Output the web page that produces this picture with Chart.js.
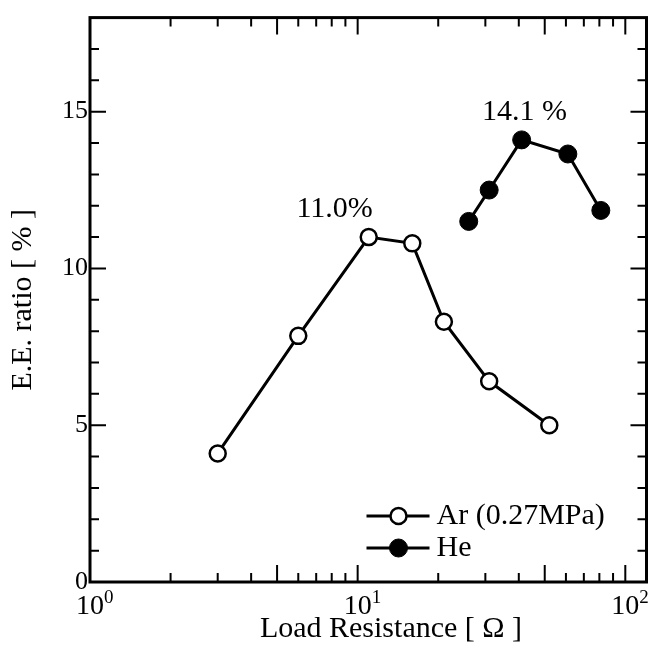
<!DOCTYPE html>
<html>
<head>
<meta charset="utf-8">
<script src="https://cdn.jsdelivr.net/npm/chart.js@4/dist/chart.umd.min.js"></script>
<style>
    html, body { margin: 0; padding: 0; background: #fff; }
</style>
</head>
<body>
<canvas id="chart" width="657" height="645"></canvas>
<script>
// values
var arLabel = "Ar (0.27MPa)";
var arX = [3, 6, 11, 16, 21, 31, 52];
var arY = [4.1, 7.85, 11.0, 10.8, 8.3, 6.4, 5.0];

var heLabel = "He";
var heX = [26, 31, 41, 61, 81];
var heY = [11.5, 12.5, 14.1, 13.65, 11.85];

var xDecades = [1, 10, 100];
var xExponents = ["0", "1", "2"];
var xMax = 120;
var yTicks = [0, 5, 10, 15];
var yMax = 18;

var peakTexts = ["11.0%", "14.1 %"];
var peakAtX = [8.2, 42];
var peakAtY = [11.9, 15.0];

var serif = "'Liberation Serif', 'DejaVu Serif', serif";
Chart.defaults.font.family = serif;
Chart.defaults.color = "#000";

function pts(xs, ys) {
    return xs.map(function (x, i) { return {x: x, y: ys[i]}; });
}

// frame, inward ticks, x labels, annotations, legend
var decor = {
    id: "decor",
    afterDraw: function (chart) {
        var ctx = chart.ctx, a = chart.chartArea;
        var xs = chart.scales.x, ys = chart.scales.y;
        ctx.save();
        ctx.strokeStyle = "#000";
        ctx.lineWidth = 3;
        ctx.strokeRect(a.left, a.top, a.right - a.left, a.bottom - a.top);

        ctx.lineWidth = 2;
        ctx.beginPath();
        xDecades.forEach(function (d) {
            for (var k = 1; k <= 9; k++) {
                var v = k * d;
                if (v <= 1 || v >= xMax) continue;
                var px = xs.getPixelForValue(v);
                var len = (k === 1 || k === 5) ? 17 : 9;
                ctx.moveTo(px, a.bottom); ctx.lineTo(px, a.bottom - len);
                ctx.moveTo(px, a.top); ctx.lineTo(px, a.top + len);
            }
        });
        for (var v = 1; v < yMax; v++) {
            var py = ys.getPixelForValue(v);
            var len = (v % 5 === 0) ? 16 : 9;
            ctx.moveTo(a.left, py); ctx.lineTo(a.left + len, py);
            ctx.moveTo(a.right, py); ctx.lineTo(a.right - len, py);
        }
        ctx.stroke();

        // x tick labels 10^n
        ctx.fillStyle = "#000";
        ctx.textBaseline = "alphabetic";
        xDecades.forEach(function (d, i) {
            var px = xs.getPixelForValue(d);
            ctx.font = "28px " + serif;
            ctx.textAlign = "center";
            ctx.fillText("10", px, 614);
            var w = ctx.measureText("10").width;
            ctx.font = "19px " + serif;
            ctx.textAlign = "left";
            ctx.fillText(xExponents[i], px + w / 2, 603);
        });

        // x axis title
        ctx.font = "30px " + serif;
        ctx.textAlign = "center";
        ctx.fillText("Load Resistance [ \u03A9 ]", 391, 637);

        // peak annotations
        ctx.font = "30px " + serif;
        ctx.textBaseline = "middle";
        peakTexts.forEach(function (t, i) {
            ctx.fillText(t, xs.getPixelForValue(peakAtX[i]), ys.getPixelForValue(peakAtY[i]));
        });

        // legend
        var lx = a.right - 280, ly = a.bottom - 66;
        chart.data.datasets.forEach(function (ds, i) {
            var y = ly + i * 32;
            ctx.lineWidth = ds.borderWidth;
            ctx.beginPath();
            ctx.moveTo(lx, y); ctx.lineTo(lx + 63, y);
            ctx.stroke();
            ctx.beginPath();
            ctx.arc(lx + 32, y, ds.pointRadius, 0, Math.PI * 2);
            ctx.fillStyle = ds.pointBackgroundColor;
            ctx.fill();
            ctx.lineWidth = ds.pointBorderWidth;
            ctx.stroke();
            ctx.fillStyle = "#000";
            ctx.textAlign = "left";
            ctx.font = "30px " + serif;
            ctx.fillText(ds.label, lx + 70, y);
        });
        ctx.restore();
    }
};

new Chart(document.getElementById("chart"), {
    type: "line",
    data: {
        datasets: [{
            label: arLabel,
            data: pts(arX, arY),
            borderColor: "#000",
            borderWidth: 3,
            pointRadius: 8,
            pointBorderWidth: 2.5,
            pointBackgroundColor: "#fff",
            pointBorderColor: "#000",
            fill: false,
            tension: 0
        }, {
            label: heLabel,
            data: pts(heX, heY),
            borderColor: "#000",
            borderWidth: 3,
            pointRadius: 9,
            pointBorderWidth: 1,
            pointBackgroundColor: "#000",
            pointBorderColor: "#000",
            fill: false,
            tension: 0
        }]
    },
    options: {
        responsive: false,
        animation: false,
        devicePixelRatio: 1,
        layout: {padding: {top: 12, right: 5, left: 0, bottom: 0}},
        plugins: {legend: {display: false}, tooltip: {enabled: false}},
        scales: {
            x: {
                type: "logarithmic",
                min: 1,
                max: xMax,
                grid: {display: false},
                border: {display: false},
                ticks: {display: false},
                afterFit: function (s) { s.height = 63; }
            },
            y: {
                type: "linear",
                min: 0,
                max: yMax,
                grid: {display: false, drawTicks: false},
                border: {display: false},
                afterBuildTicks: function (s) {
                    s.ticks = yTicks.map(function (v) { return {value: v}; });
                },
                ticks: {color: "#000", font: {size: 26}, padding: 2},
                title: {
                    display: true,
                    text: "E.E. ratio [ % ]",
                    color: "#000",
                    font: {size: 30},
                    padding: {top: 5, bottom: 0}
                },
                afterFit: function (s) { s.width = 90; }
            }
        }
    },
    plugins: [decor]
});
</script>
</body>
</html>
